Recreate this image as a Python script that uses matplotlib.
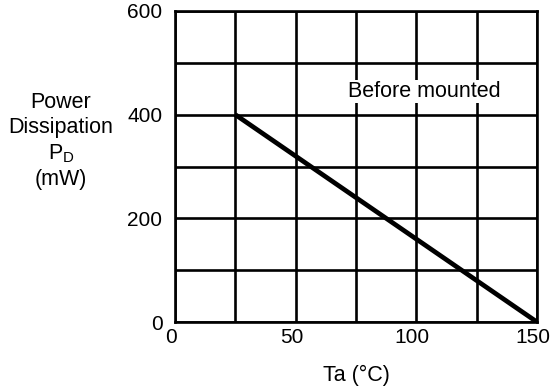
import matplotlib.pyplot as plt
import matplotlib.transforms as mtransforms
import numpy as np

plt.rcParams['font.family'] = ['Liberation Sans', 'DejaVu Sans']

# derating curve: before mounted
ta = [25, 150]
pd_mw = [400, 0]

x_ticks = [0, 50, 100, 150]
y_ticks = [0, 200, 400, 600]
x_grid = np.arange(0, 151, 25)
y_grid = np.arange(0, 601, 100)

fig = plt.figure(figsize=(5.51, 3.88), dpi=100)
ax = fig.add_axes([175 / 551, 1 - 322 / 388, 362 / 551, 311 / 388])

ax.set_xlim(0, 150)
ax.set_ylim(0, 600)

for gx in x_grid:
    ax.axvline(gx, color='black', lw=1.9, zorder=1)
for gy in y_grid:
    ax.axhline(gy, color='black', lw=1.9, zorder=1)

ax.plot(ta, pd_mw, color='black', lw=3.4, solid_capstyle='butt', zorder=3)

ax.text(103.5, 445, 'Before mounted', fontsize=15.5, ha='center', va='center',
        bbox=dict(facecolor='white', edgecolor='none', pad=1), zorder=2)

for s in ax.spines.values():
    s.set_linewidth(1.9)

ax.set_xticks(x_ticks)
ax.set_yticks(y_ticks)
ax.tick_params(length=0, labelsize=15)
ax.tick_params(axis='x', pad=4)
ax.tick_params(axis='y', pad=9)
ax.set_xlabel('Ta (°C)', fontsize=15.5, labelpad=13)

# nudge x tick labels a little left so "150" stays inside the figure
shift = mtransforms.ScaledTranslation(-4 / 100, 0, fig.dpi_scale_trans)
for lbl in ax.get_xticklabels():
    lbl.set_transform(lbl.get_transform() + shift)

fig.text(61 / 551, 1 - 141 / 388, 'Power\nDissipation\nP$_\\mathregular{D}$\n(mW)',
         ha='center', va='center', fontsize=15.5, linespacing=1.25)

fig.savefig('out.png', dpi=100)
